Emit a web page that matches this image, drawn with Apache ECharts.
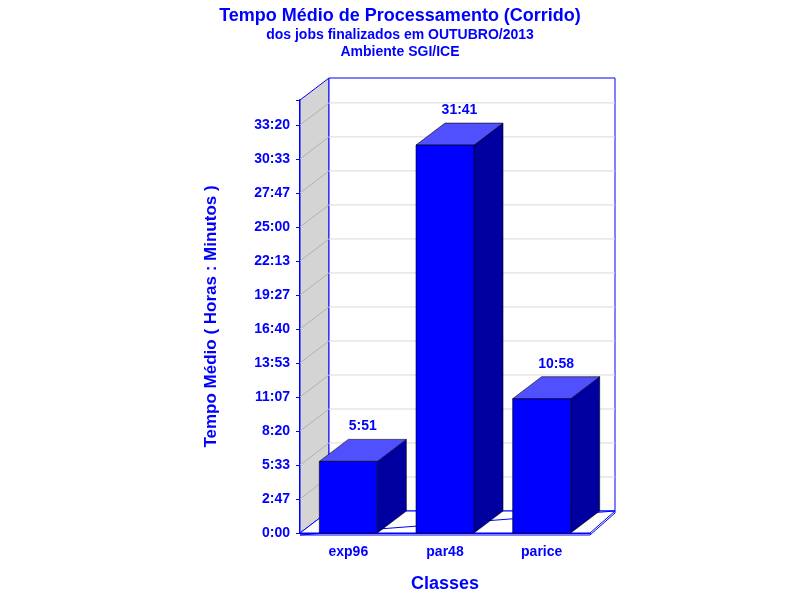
<!DOCTYPE html>
<html>
<head>
<meta charset="utf-8">
<script src="https://cdn.jsdelivr.net/npm/echarts@6/dist/echarts.min.js"></script>
<style>html,body{margin:0;background:#fff}#c{width:800px;height:600px}</style>
</head>
<body>
<div id="c"></div>
<script>
// classes and average times in minutes
const classes = ['exp96', 'par48', 'parice'];
const minutes = [351, 1901, 658];
const barLabels = ['5:51', '31:41', '10:58'];

const STEP = 10000 / 60; // 2:46.67
const AXIS_MAX = 2122;
const DX = 29, DY = -22;

const fmt = (v) => {
  const m = Math.round(v);
  return Math.floor(m / 60) + ':' + String(m % 60).padStart(2, '0');
};

const chart = echarts.init(document.getElementById('c'));

function renderWalls (params, api) {
  const cs = params.coordSys;
  const x0 = cs.x, y0 = cs.y, x1 = cs.x + cs.width, y1 = cs.y + cs.height;
  const children = [];
  // left side wall
  children.push({ type: 'polygon', shape: { points: [[x0, y1], [x0 + DX, y1 + DY], [x0 + DX, y0 + DY], [x0, y0]] },
    style: { fill: '#d4d4d4', stroke: '#0000ff', lineWidth: 1 } });
  // back wall
  children.push({ type: 'rect', shape: { x: x0 + DX, y: y0 + DY, width: cs.width - 4, height: cs.height },
    style: { fill: '#fff', stroke: '#0000ff', lineWidth: 1 } });
  for (let v = STEP; v < AXIS_MAX; v += STEP) {
    const y = api.coord([0, v])[1];
    children.push({ type: 'line', shape: { x1: x0 + DX, y1: y + DY, x2: x1 + DX - 4, y2: y + DY }, style: { stroke: '#d8d8d8', lineWidth: 1 } });
    children.push({ type: 'line', shape: { x1: x0, y1: y, x2: x0 + DX, y2: y + DY }, style: { stroke: '#b0b0b0', lineWidth: 1 } });
  }
  // floor
  children.push({ type: 'polygon', shape: { points: [[x0, y1], [x1, y1], [x1 + DX - 4, y1 + DY], [x0 + DX, y1 + DY]] },
    style: { fill: '#fff', stroke: '#0000ff', lineWidth: 1 } });
  children.push({ type: 'polygon', shape: { points: [[x0, y1 + 2], [x1, y1 + 2], [x1 + DX - 4, y1 + DY + 2], [x1 + DX - 4, y1 + DY]] },
    style: { fill: 'none', stroke: '#0000ff', lineWidth: 1 } });
  return { type: 'group', children };
}

function renderBar (params, api) {
  const i = api.value(0), v = api.value(1);
  const top = api.coord([i, v]);
  const base = api.coord([i, 0]);
  const w = api.size([1, 0])[0] * 0.6;
  const l = top[0] - w / 2, r = top[0] + w / 2;
  return {
    type: 'group',
    children: [
      { type: 'polygon', shape: { points: [[r, top[1]], [r + DX, top[1] + DY], [r + DX, base[1] + DY], [r, base[1]]] },
        style: { fill: '#0000a0', stroke: '#000', lineWidth: 0.6 } },
      { type: 'polygon', shape: { points: [[l, top[1]], [l + DX, top[1] + DY], [r + DX, top[1] + DY], [r, top[1]]] },
        style: { fill: '#5050ff', stroke: '#000', lineWidth: 0.6 } },
      { type: 'rect', shape: { x: l, y: top[1], width: w, height: base[1] - top[1] },
        style: { fill: '#0000ff', stroke: '#000', lineWidth: 0.6 } },
      { type: 'text', x: top[0] + DX / 2, y: top[1] + DY - 6,
        style: { text: barLabels[i], fill: '#0000ff', font: 'bold 14px Arial', align: 'center', verticalAlign: 'bottom' } }
    ]
  };
}

chart.setOption({
  animation: false,
  title: [
    { text: 'Tempo Médio de Processamento (Corrido)', left: 'center', top: 2,
      textStyle: { color: '#0000ff', fontFamily: 'Arial', fontWeight: 'bold', fontSize: 18 } },
    { text: 'dos jobs finalizados em OUTUBRO/2013\nAmbiente SGI/ICE', left: 'center', top: 22,
      textStyle: { color: '#0000ff', fontFamily: 'Arial', fontWeight: 'bold', fontSize: 14, lineHeight: 17 } }
  ],
  grid: { left: 300, right: 210, top: 100, bottom: 67 },
  xAxis: {
    type: 'category', data: classes,
    name: 'Classes', nameLocation: 'middle', nameGap: 42,
    nameTextStyle: { color: '#0000ff', fontFamily: 'Arial', fontWeight: 'bold', fontSize: 18 },
    axisLine: { lineStyle: { color: '#0000ff', width: 2 } },
    axisTick: { show: false },
    axisLabel: { color: '#0000ff', fontFamily: 'Arial', fontWeight: 'bold', fontSize: 14, margin: 12 }
  },
  yAxis: {
    type: 'value', min: 0, max: AXIS_MAX, interval: STEP,
    name: 'Tempo Médio ( Horas : Minutos )', nameLocation: 'middle', nameGap: 80,
    nameTextStyle: { color: '#0000ff', fontFamily: 'Arial', fontWeight: 'bold', fontSize: 17 },
    axisLine: { show: true, lineStyle: { color: '#0000ff', width: 2 } },
    axisTick: { show: true, length: 4, lineStyle: { color: '#0000ff' } },
    splitLine: { show: false },
    axisLabel: { color: '#0000ff', fontFamily: 'Arial', fontWeight: 'bold', fontSize: 14, margin: 10,
      formatter: (v) => v >= AXIS_MAX - 1 ? '' : fmt(v) }
  },
  series: [
    { type: 'custom', renderItem: renderWalls, data: [[0, 0]], silent: true, z: 1 },
    { type: 'custom', renderItem: renderBar, encode: { x: 0, y: 1 },
      data: minutes.map((m, i) => [i, m]), z: 2 }
  ]
});
</script>
</body>
</html>
